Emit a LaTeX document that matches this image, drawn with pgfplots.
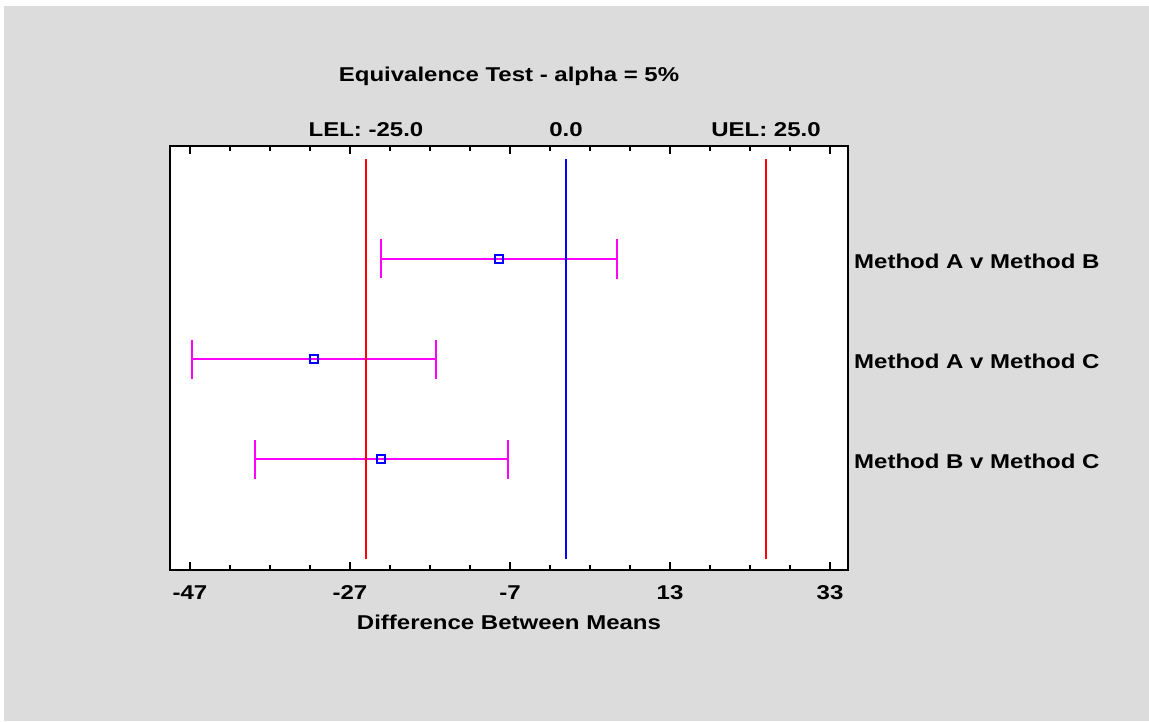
\documentclass[border=0pt]{standalone}
\usepackage{fontspec}
\setmainfont[FakeStretch=1.2]{Liberation Sans}
\usepackage{pgfplots}
\pgfplotsset{compat=1.18}
\definecolor{bggray}{RGB}{220,220,220}
\definecolor{barmag}{RGB}{255,0,255}
\definecolor{limred}{RGB}{255,0,0}
\definecolor{zeroblue}{RGB}{0,0,255}

\begin{document}
\begin{tikzpicture}[x=1pt,y=1pt]
  % page: 1149 x 721, axis frame at (170,146)-(848,570) in picture pixels
  \useasboundingbox (-170,-151) rectangle (979,570);
  \fill[white] (-170,-151) rectangle (979,570);
  \fill[bggray] (-166,-151) rectangle (979,564);
  \begin{axis}[%
    at={(0,0)}, anchor=south west,%
    scale only axis, width=678pt, height=424pt,%
    font=\fontsize{20}{24}\selectfont\bfseries,%
    /pgf/number format/assume math mode=true,%
    xmin=-49.5, xmax=35.25, ymin=-0.11, ymax=4.13,%
    axis background/.style={fill=white},%
    axis line style={line width=2pt},%
    xtick={-47,-27,...,33},%
    minor xtick={-42,-37,-32,-22,-17,-12,-2,3,8,18,23,28},%
    tick align=inside, xtick pos=both, xticklabel pos=lower,%
    major tick length=8pt, minor tick length=5pt,%
    xtick style={black, line width=1.5pt},%
    xticklabel style={anchor=center, yshift=-23pt},%
    ytick={1,2,3},%
    yticklabels={Method B v Method C, Method A v Method C, Method A v Method B},%
    yticklabel pos=right, ytick style={draw=none},%
    yticklabel style={anchor=west, inner sep=0pt, xshift=6pt, yshift=-2.5pt},%
    xlabel={Difference Between Means},%
    xlabel style={at={(axis description cs:0.5,0)}, anchor=center, yshift=-52pt},%
    title={Equivalence Test - alpha = 5\%},%
    title style={at={(axis description cs:0.5,1)}, anchor=base, yshift=58pt},%
    clip=false,%
    ]
    % intervals for the differences
    \addplot[only marks, mark=square, mark size=4pt,
      mark options={draw=zeroblue, line width=1.6pt, fill=none},
      error bars/.cd, x dir=both, x explicit,
      error bar style={draw=barmag, line width=2pt},
      error mark=|,
      error mark options={draw=barmag, line width=2pt, mark size=19.5pt}]
      coordinates {
        (-8.4,3) +- (14.75,0)
        (-31.5,2) +- (15.25,0)
        (-23.1,1) +- (15.8,0)
      };
    % equivalence limits
    \addplot[draw=limred, line width=2pt, mark=none] coordinates {(-25,0) (-25,4)};
    \addplot[draw=zeroblue, line width=2pt, mark=none] coordinates {(0,0) (0,4)};
    \addplot[draw=limred, line width=2pt, mark=none] coordinates {(25,0) (25,4)};
    \node[anchor=base, yshift=9.5pt] at (axis cs:-25,4.13) {LEL: -25.0};
    \node[anchor=base, yshift=9.5pt] at (axis cs:0,4.13) {0.0};
    \node[anchor=base, yshift=9.5pt] at (axis cs:25,4.13) {UEL: 25.0};
  \end{axis}
\end{tikzpicture}
\end{document}
